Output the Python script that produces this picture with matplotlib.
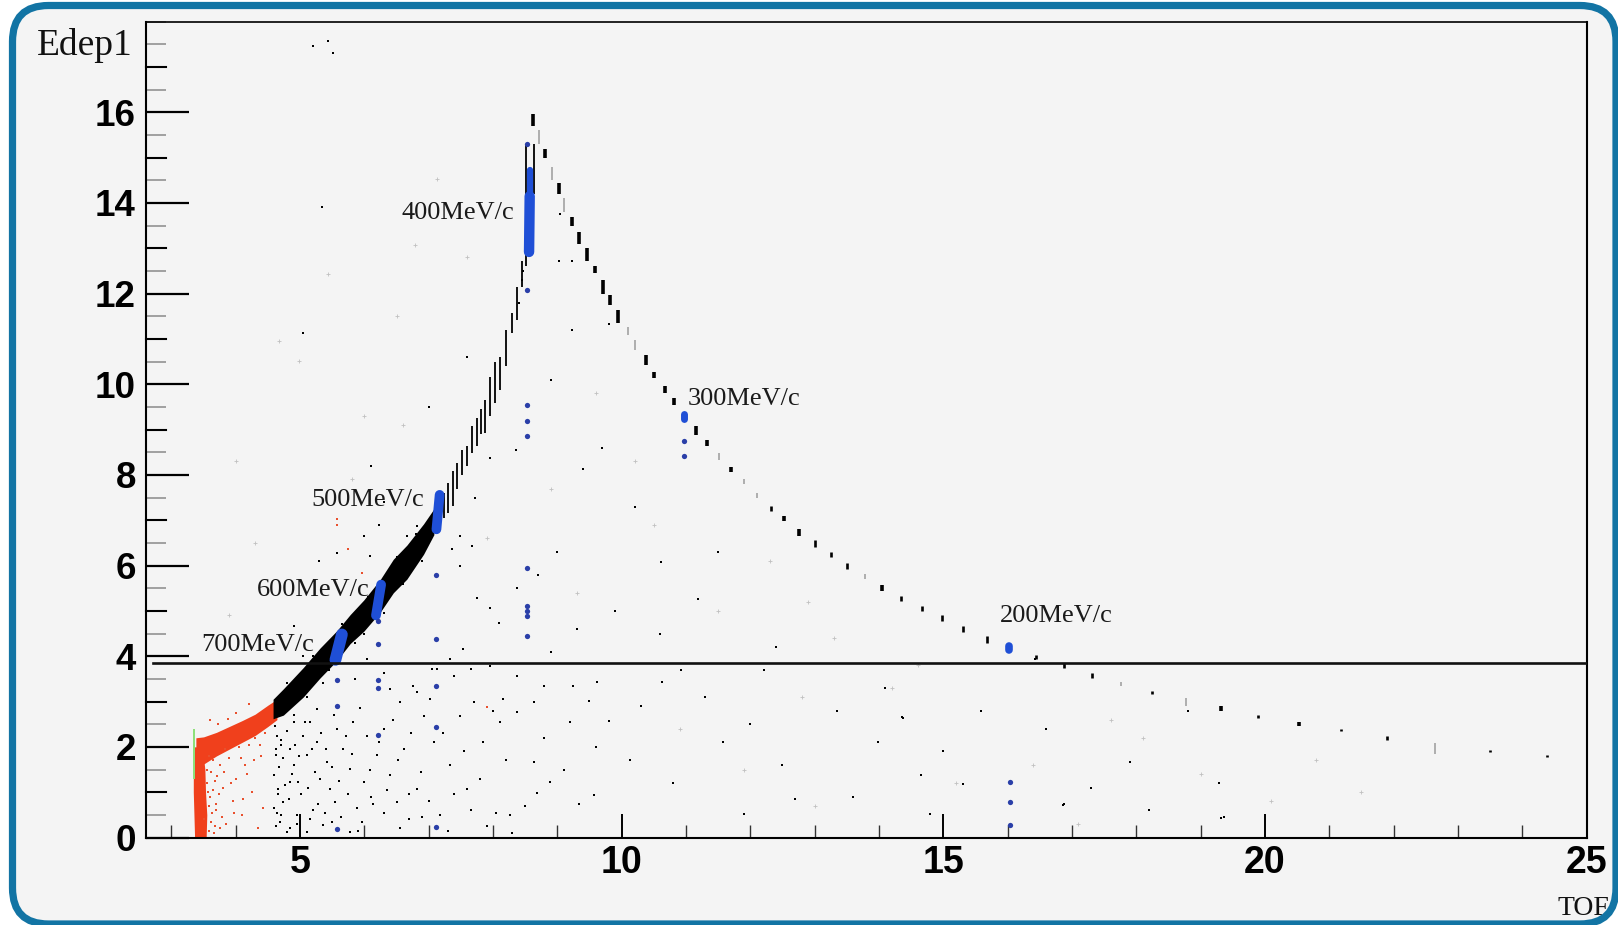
import matplotlib
matplotlib.use("Agg")
import matplotlib.pyplot as plt
from matplotlib.patches import FancyBboxPatch
from matplotlib.ticker import MultipleLocator

# ---------------------------------------------------------------- data
# rising branch: dense band (TOF, lower / upper Edep1 edge)
band_tof = [4.58, 4.74, 5.05, 5.31, 5.57, 5.78, 5.99, 6.25, 6.45, 6.66, 6.92, 7.08]
band_lo = [2.62, 2.70, 3.10, 3.52, 3.90, 4.28, 4.55, 4.98, 5.40, 5.70, 6.25, 6.68]
band_hi = [3.05, 3.28, 3.75, 4.18, 4.56, 4.92, 5.24, 5.70, 6.14, 6.45, 6.92, 7.25]

# rising branch: separate TOF bins above the dense band
col_tof = [7.24, 7.30, 7.37, 7.44, 7.52, 7.59, 7.67, 7.75, 7.81, 7.88, 7.96,
           8.03, 8.11, 8.20, 8.29, 8.37, 8.45, 8.52, 8.63]
col_lo = [7.05, 7.16, 7.31, 7.68, 8.00, 8.19, 8.48, 8.63, 8.90, 8.93, 9.29,
          9.58, 9.87, 10.40, 11.13, 11.41, 12.15, 12.60, 14.20]
col_hi = [7.60, 7.82, 8.08, 8.26, 8.55, 8.63, 9.07, 9.26, 9.45, 9.65, 10.17,
          10.50, 10.61, 11.20, 11.57, 12.15, 12.73, 15.30, 15.30]

# falling branch: one short bar per TOF bin
desc_tof = [8.62, 8.72, 8.81, 8.91, 9.02, 9.11, 9.22, 9.34, 9.46, 9.58, 9.71,
            9.82, 9.95, 10.10, 10.21, 10.38, 10.50, 10.67, 10.82, 11.16, 11.33,
            11.51, 11.70, 11.90, 12.10, 12.32, 12.53, 12.76, 13.00, 13.25, 13.50,
            13.79, 14.05, 14.35, 14.67, 14.98, 15.31, 15.68, 16.44, 16.87, 17.31,
            17.76, 18.25, 18.78, 19.32, 19.90, 20.53, 21.19, 21.90, 22.65, 23.50,
            24.38]
desc_lo = [15.70, 15.30, 15.00, 14.50, 14.20, 13.80, 13.50, 13.10, 12.73, 12.45,
           12.00, 11.74, 11.35, 11.08, 10.75, 10.42, 10.14, 9.81, 9.54, 8.88,
           8.63, 8.34, 8.06, 7.79, 7.49, 7.21, 6.98, 6.66, 6.42, 6.20, 5.93,
           5.70, 5.44, 5.22, 5.00, 4.78, 4.54, 4.30, 3.94, 3.74, 3.51, 3.35,
           3.17, 2.91, 2.79, 2.63, 2.46, 2.34, 2.16, 1.85, 1.88, 1.77]
desc_hi = [15.97, 15.60, 15.20, 14.80, 14.45, 14.10, 13.70, 13.35, 13.00, 12.62,
           12.30, 11.96, 11.63, 11.27, 10.97, 10.64, 10.28, 9.96, 9.70, 9.07,
           8.78, 8.49, 8.17, 7.90, 7.60, 7.32, 7.09, 6.81, 6.56, 6.30, 6.05,
           5.81, 5.57, 5.32, 5.11, 4.90, 4.67, 4.45, 4.02, 3.85, 3.64, 3.44,
           3.24, 3.07, 2.90, 2.71, 2.54, 2.40, 2.24, 2.08, 1.94, 1.83]
# relative number of hits in each bar (1 = few, 3 = many)
desc_hits = [3, 1, 3, 1, 3, 1, 3, 3, 3, 3, 3, 3, 3, 1, 1, 3, 3, 3, 3, 3, 3,
             1, 3, 1, 1, 2, 3, 3, 2, 2, 2, 1, 3, 2, 2, 2, 2, 2, 2, 2, 2,
             1, 2, 1, 3, 2, 3, 2, 2, 1, 2, 2]

# selected momenta (blue): cluster TOF range and Edep1 range
clus_tof0 = [5.55, 6.18, 7.12, 8.56, 8.57, 10.97, 16.02]
clus_tof1 = [5.65, 6.26, 7.17, 8.57, 8.57, 10.97, 16.02]
clus_lo = [3.92, 4.90, 6.80, 12.92, 14.25, 9.24, 4.13]
clus_hi = [4.48, 5.58, 7.56, 14.15, 14.72, 9.34, 4.22]

# isolated blue entries below each selected momentum
blue_tof = [8.53, 8.53, 8.53, 8.53, 8.53, 8.53, 8.53, 8.53, 8.53, 8.53,
            7.12, 7.12, 7.12, 7.12, 7.12,
            6.21, 6.21, 6.21, 6.21, 6.21,
            5.58, 5.58, 5.58,
            10.97, 10.97,
            16.03, 16.03, 16.03]
blue_e = [15.30, 12.07, 9.54, 9.18, 8.85, 5.95, 5.11, 5.00, 4.89, 4.45,
          5.80, 4.39, 3.35, 2.43, 0.23,
          4.77, 4.27, 3.47, 3.30, 2.27,
          3.47, 2.90, 0.18,
          8.74, 8.42,
          1.22, 0.78, 0.27]

# low-TOF component (red)
red_band_tof = [3.38, 3.50, 3.70, 3.90, 4.10, 4.30, 4.50, 4.64]
red_band_lo = [1.45, 1.62, 1.80, 1.95, 2.10, 2.25, 2.45, 2.60]
red_band_hi = [2.20, 2.22, 2.32, 2.45, 2.58, 2.72, 2.92, 3.05]
red_col_e = [0.00, 0.50, 1.00, 1.50, 2.00]
red_col_tof0 = [3.36, 3.35, 3.34, 3.34, 3.34]
red_col_tof1 = [3.54, 3.55, 3.53, 3.52, 3.48]
red_tof = [3.55, 3.60, 3.62, 3.70, 3.75, 3.80, 3.85, 3.90, 3.95, 4.00, 4.05,
           4.10, 4.15, 4.20, 4.25, 4.30, 4.35, 4.40, 4.45, 3.50, 3.58, 3.65,
           3.72, 3.88, 3.60, 4.00, 4.20, 3.57, 3.59, 3.56, 3.61, 3.63, 3.68,
           3.58, 3.66, 3.78, 3.64, 3.67, 3.71, 3.74, 3.82, 3.93, 3.98, 4.08,
           4.12, 4.18, 4.28, 4.38, 4.42, 3.69, 3.76, 3.84,
           5.57, 5.58, 5.74, 5.96, 7.91]
red_e = [1.20, 0.90, 1.45, 0.60, 1.60, 1.10, 0.30, 1.75, 0.80, 1.30, 2.00,
         0.50, 1.60, 2.05, 1.00, 2.20, 0.20, 1.80, 2.30, 0.40, 0.15, 1.70,
         2.50, 2.62, 2.60, 2.75, 2.95, 1.00, 0.70, 1.50, 0.35, 0.55, 1.25,
         1.80, 0.10, 0.45, 1.05, 0.25, 1.35, 0.95, 1.45, 1.20, 0.55, 1.75,
         0.85, 1.40, 1.70, 2.05, 0.65, 0.75, 0.20, 1.95,
         6.90, 7.02, 6.36, 5.84, 2.87]
green_e = [1.30, 2.40]
green_tof = [3.33, 3.37]

# scattered single entries
dot_tof = [4.61, 4.64, 4.63, 4.60, 4.66, 4.74, 4.59, 4.69, 4.79, 4.71, 4.84,
           4.90, 4.97, 5.05, 5.10, 5.16, 5.26, 5.31, 5.42, 5.47, 5.54, 5.57,
           5.67, 5.78, 5.83, 5.88, 5.99, 6.04, 6.19, 6.30, 6.40, 6.50, 6.61,
           6.76, 6.82, 6.92, 7.08, 7.18, 7.33, 7.49, 7.59, 7.85, 8.11, 8.27,
           8.37, 8.63, 8.89, 9.20, 9.57, 5.10, 5.36, 5.78, 4.95, 4.84, 5.26,
           5.57, 4.90, 5.86, 6.04, 6.40, 6.56, 6.82, 7.13, 7.39, 7.70, 7.96,
           8.37, 8.63, 8.79, 9.25, 9.62,
           7.36, 7.67, 7.49, 7.75, 7.96, 8.09, 7.54, 8.37, 8.35, 7.96, 7.72,
           7.49, 5.29, 5.57, 6.22, 6.09, 6.66, 6.82, 4.90, 5.05, 6.30, 6.76,
           7.05, 7.33, 7.65, 8.37, 8.16,
           5.10, 5.20, 5.45, 5.65, 5.85, 6.05, 6.30, 6.50, 6.60, 6.80, 4.80,
           4.90, 5.35, 6.00, 6.90,
           11.19, 10.63, 10.93, 11.57, 12.70, 13.98, 14.38, 13.34, 15.59, 16.87,
           17.90, 19.28, 19.36, 8.04, 8.68, 9.33, 9.81, 9.49, 9.40, 10.61,
           12.22, 11.90, 14.79, 16.42, 18.80, 10.13, 9.00, 6.00, 14.66, 15.31,
           19.31, 16.86, 14.36,
           5.20, 5.51, 5.43, 5.34, 5.05, 9.02, 9.23, 9.22, 9.81, 9.04,
           4.70, 4.85, 5.20, 5.50, 5.90, 6.30, 6.55, 6.90, 7.30, 7.65, 7.90,
           8.30, 6.10, 6.70, 8.45, 8.40, 8.47,
           4.62, 4.65, 4.68, 4.62, 4.70, 4.73, 4.76, 4.64, 4.80, 4.83, 4.88,
           4.92, 4.95, 4.99, 5.02, 5.07, 5.12, 5.15, 5.19, 5.23, 5.28, 5.33,
           5.38, 5.41, 5.50, 5.52, 5.60, 5.63, 5.72, 5.75, 5.81, 5.93, 5.96,
           6.08, 6.13, 6.22, 6.35, 6.45, 6.52, 6.70, 6.72, 6.88, 7.00, 7.02,
           7.22, 7.40, 7.55, 7.80, 8.00, 8.20, 8.50, 8.80, 9.10, 9.60, 10.30,
           10.80, 11.30, 12.00, 12.50, 13.60, 14.10, 15.00, 16.60, 17.30, 18.20,
           6.30, 6.10, 7.00, 7.60, 9.70, 10.20, 9.90, 8.90, 9.30, 10.60, 11.50,
           12.40, 8.70, 8.90]
dot_e = [2.47, 2.25, 1.81, 1.37, 1.08, 0.78, 0.64, 0.34, 0.12, 2.03, 1.96,
         1.59, 1.22, 2.25, 1.81, 2.54, 2.10, 1.30, 1.66, 1.08, 0.78, 2.40,
         1.96, 1.52, 2.54, 0.64, 1.22, 2.25, 1.81, 2.40, 1.37, 0.78, 1.96,
         3.35, 1.08, 2.69, 2.10, 0.49, 1.59, 2.69, 1.08, 2.10, 2.54, 0.49,
         2.76, 1.66, 1.22, 2.54, 0.93, 0.12, 0.27, 0.12, 0.49, 1.22, 2.84,
         2.91, 2.54, 3.50, 3.94, 3.28, 2.98, 3.20, 3.72, 3.57, 2.98, 3.79,
         3.57, 2.98, 3.35, 3.35, 3.42,
         6.36, 6.43, 5.99, 5.29, 5.07, 4.74, 4.16, 5.51, 8.55, 8.37, 7.49,
         6.65, 6.10, 6.28, 6.90, 6.21, 6.65, 6.87, 4.67, 4.01, 3.64, 3.35,
         3.72, 3.94, 3.72, 3.57, 3.06,
         3.10, 4.00, 3.70, 4.70, 4.30, 5.30, 4.95, 6.20, 5.60, 6.70, 3.40,
         2.70, 3.40, 4.50, 6.10,
         5.27, 3.43, 3.70, 2.11, 0.86, 2.11, 2.63, 2.79, 2.79, 0.75,
         1.66, 1.20, 0.45, 0.53, 0.98, 0.75, 2.57, 3.02, 8.13, 6.08,
         3.70, 0.52, 0.52, 3.93, 2.79, 1.70, 6.31, 6.65, 1.39, 1.19,
         0.43, 0.71, 2.65,
         17.46, 17.30, 17.57, 13.92, 11.14, 12.73, 12.73, 11.19, 11.34, 13.76,
         0.50, 0.20, 0.60, 0.35, 0.15, 0.55, 0.20, 0.45, 0.15, 0.60, 0.25,
         0.10, 0.90, 0.95, 12.30, 11.80, 12.50,
         0.25, 0.95, 1.55, 1.95, 2.15, 1.75, 1.15, 0.55, 2.35, 0.85, 1.40,
         2.05, 0.30, 1.80, 0.95, 2.55, 1.10, 0.40, 1.95, 1.45, 0.75, 2.30,
         0.55, 1.95, 1.55, 2.70, 1.25, 0.45, 2.25, 0.95, 1.85, 2.85, 0.35,
         1.50, 0.75, 2.10, 1.05, 2.60, 1.70, 0.40, 2.30, 1.45, 0.80, 3.05,
         2.30, 0.95, 1.90, 1.30, 2.80, 1.70, 0.70, 2.20, 1.50, 2.00, 2.90,
         1.20, 3.10, 2.50, 1.60, 0.90, 3.30, 1.90, 2.40, 1.10, 0.60,
         7.40, 8.20, 9.50, 10.60, 8.60, 7.30, 5.00, 4.10, 4.60, 4.50, 6.30,
         4.20, 5.80, 10.10]

faint_tof = [4.67, 4.99, 6.79, 7.13, 5.43, 6.00, 6.50, 7.60, 9.60, 10.20, 10.50,
             11.50, 12.30, 13.30, 12.80, 14.20, 15.20, 16.40, 17.10, 18.10, 19.00,
             20.10, 21.50, 9.30, 8.90, 4.30, 4.00, 3.90, 11.90, 13.00, 5.80, 6.60,
             7.90, 10.90, 12.90, 14.60, 17.60, 20.80]
faint_e = [10.96, 10.51, 13.07, 14.53, 12.43, 9.30, 11.50, 12.80, 9.80, 8.30, 6.90,
           5.00, 6.10, 4.40, 3.10, 3.30, 1.20, 1.60, 0.30, 2.20, 1.40,
           0.80, 1.00, 5.40, 7.70, 6.50, 8.30, 4.90, 1.50, 0.70, 7.90, 9.10,
           6.60, 2.40, 5.20, 3.80, 2.60, 1.70]

cut_e = 3.86

labels = ["700MeV/c", "600MeV/c", "500MeV/c", "400MeV/c", "300MeV/c", "200MeV/c"]
label_tof = [3.47, 4.33, 5.18, 6.57, 11.02, 15.88]
label_e = [4.12, 5.33, 7.31, 13.64, 9.54, 4.76]

x_ticks = [5, 10, 15, 20, 25]
y_ticks = [0, 2, 4, 6, 8, 10, 12, 14, 16]
y_mid_ticks = [1, 3, 5, 7, 9, 11, 13, 15, 17]

# ---------------------------------------------------------------- figure
W, H = 1618, 925
fig = plt.figure(figsize=(W / 100, H / 100), dpi=100)
fig.patch.set_facecolor("white")

BLUE_FRAME = "#1274a4"
PANEL = "#f4f4f4"

bg = fig.add_axes([0, 0, 1, 1], zorder=-5)
bg.set_xlim(0, W)
bg.set_ylim(H, 0)
bg.axis("off")
bg.add_patch(FancyBboxPatch((12.5, 5.5), 1603.5, 918.5,
                            boxstyle="round,pad=0,rounding_size=36",
                            fc=PANEL, ec="none"))

fg = fig.add_axes([0, 0, 1, 1], zorder=20)
fg.set_xlim(0, W)
fg.set_ylim(H, 0)
fg.axis("off")
fg.add_patch(FancyBboxPatch((12.5, 5.5), 1603.5, 918.5,
                            boxstyle="round,pad=0,rounding_size=36",
                            fc="none", ec=BLUE_FRAME, lw=5.2))

ax = fig.add_axes([145.7 / W, 1 - 837.5 / H, (1586.5 - 145.7) / W, (837.5 - 21.7) / H])
ax.set_facecolor("none")
ax.set_xlim(2.6, 25)
ax.set_ylim(0, 18)

# faint single entries
ax.plot(faint_tof, faint_e, ls="none", marker="+", ms=3, mew=0.6, color="#c0c0c0")

# low-TOF component
ax.fill_betweenx(red_col_e, red_col_tof0, red_col_tof1, color="#f0401c", lw=0, zorder=2)
ax.fill_between(red_band_tof, red_band_lo, red_band_hi, color="#f0401c", lw=0, zorder=2)
ax.plot(red_tof, red_e, ls="none", marker="s", ms=1.9, mew=0, color="#e8502e", zorder=2)
ax.fill_betweenx(green_e, green_tof[0], green_tof[1], color="#8ee07a", lw=0, zorder=3)

# rising branch
ax.fill_between(band_tof, band_lo, band_hi, color="black", lw=0, zorder=3)
ax.vlines(col_tof, col_lo, col_hi, color="black", lw=1.3, zorder=3)

# falling branch
hit_style = {1: ("#9a9a9a", 1.1), 2: ("black", 1.9), 3: ("black", 2.6)}
for t, lo, hi, n in zip(desc_tof, desc_lo, desc_hi, desc_hits):
    c, w = hit_style[n]
    ax.vlines(t, lo, hi, color=c, lw=w, zorder=3)

# scattered single entries
ax.plot(dot_tof, dot_e, ls="none", marker="s", ms=2.0, mew=0, color="black", zorder=3)

# selected momenta
clus_lw = [8.5, 7.0, 7.0, 7.5, 4.5, 5.0, 5.5]
for t0, t1, lo, hi, w in zip(clus_tof0, clus_tof1, clus_lo, clus_hi, clus_lw):
    ax.plot([t0, t1], [lo, hi], color="#1f4fd6", lw=w, solid_capstyle="round", zorder=4)
ax.plot(blue_tof, blue_e, ls="none", marker="o", ms=3.8, mew=0, color="#2a3fa8", zorder=4)

# Edep1 cut
ax.plot([2.71, 25], [cut_e, cut_e], color="#111111", lw=1.9, zorder=5)

for txt, t, e in zip(labels, label_tof, label_e):
    ax.text(t, e, txt, fontsize=19, family="Liberation Serif", color="#1a1a1a",
            ha="left", va="baseline", zorder=6)

# axes styling
for s in ax.spines.values():
    s.set_color("black")
    s.set_linewidth(1.5)
ax.spines["top"].set_linewidth(1.2)

ax.set_xticks(x_ticks, [str(v) for v in x_ticks], fontsize=27, fontweight="bold",
              family=["Liberation Sans Narrow", "Liberation Sans"])
ax.set_yticks(y_ticks, [str(v) for v in y_ticks], fontsize=26.5, fontweight="bold",
              family="Liberation Sans")
ax.xaxis.set_minor_locator(MultipleLocator(1))
ax.yaxis.set_minor_locator(MultipleLocator(0.5))
ax.tick_params(axis="x", which="major", direction="in", length=17, width=1.4, pad=5.5,
               top=False)
ax.tick_params(axis="x", which="minor", direction="in", length=9.5, width=1.0,
               color="#333333", top=False)
ax.tick_params(axis="y", which="major", direction="in", length=31, width=1.6, pad=7,
               right=False)
ax.tick_params(axis="y", which="minor", direction="in", length=14.4, width=1.1,
               color="#8a8a8a", right=False)
ymark = ax.get_yaxis_transform()
for v in y_mid_ticks:
    ax.plot([0, 14.4 / 72 * 100 / 1440.8], [v, v], transform=ymark, color="black",
            lw=1.5, clip_on=False, zorder=6)

fig.text(37 / W, 1 - 55 / H, "Edep1", fontsize=27, family="Liberation Serif",
         ha="left", va="baseline", color="#111111")
fig.text(1609 / W, 1 - 915 / H, "TOF", fontsize=20, family="Liberation Serif",
         ha="right", va="baseline", color="#111111")

fig.savefig("out.png", dpi=100, facecolor=fig.get_facecolor())
